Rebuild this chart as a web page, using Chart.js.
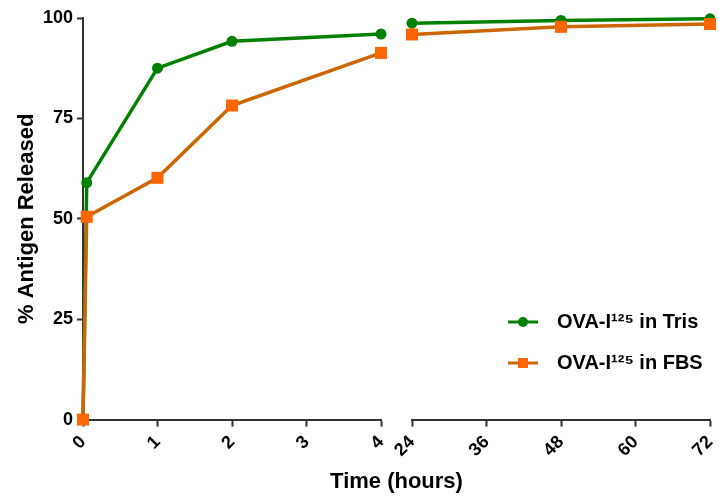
<!DOCTYPE html>
<html>
<head>
<meta charset="utf-8">
<title>% Antigen Released</title>
<script src="https://cdn.jsdelivr.net/npm/chart.js@4/dist/chart.umd.min.js"></script>
<style>
    html, body { margin: 0; padding: 0; background: #ffffff; }
    #wrap { position: relative; width: 719px; height: 496px; }
</style>
</head>
<body>
<div id="wrap"><canvas id="releaseChart"></canvas></div>
<script>
// Данные: время (часы) и процент высвобождения антигена
const hoursEarly = [0, 0.05, 1, 2, 4];
const hoursLate = [24, 48, 72];

const trisEarly = [0, 59, 87.5, 94.2, 96];
const trisLate = [98.7, 99.4, 99.8];

const fbsEarly = [0, 50.5, 60.2, 78.2, 91.3];
const fbsLate = [95.9, 97.8, 98.5];

const yTicks = [0, 25, 50, 75, 100];
const seriesLabels = ['OVA-I\u00B9\u00B2\u2075 in Tris', 'OVA-I\u00B9\u00B2\u2075 in FBS'];

const GREEN = '#008000';
const ORANGE_LINE = '#CC6600';
const ORANGE_MARK = '#FF6600';
const AXIS = '#333333';
const FONT = "'Liberation Sans', Arial, sans-serif";

function toPoints(xs, ys) {
    return xs.map((x, i) => ({ x, y: ys[i] }));
}

/**
 * Иконка легенды: линия с маркером
 */
function legendIcon(lineColor, markColor, shape) {
    const c = document.createElement('canvas');
    c.width = 30;
    c.height = 14;
    const g = c.getContext('2d');
    g.strokeStyle = lineColor;
    g.lineWidth = 3;
    g.beginPath();
    g.moveTo(0, 7);
    g.lineTo(30, 7);
    g.stroke();
    g.fillStyle = markColor;
    if (shape === 'circle') {
        g.beginPath();
        g.arc(15, 7, 5, 0, Math.PI * 2);
        g.fill();
    } else {
        g.fillRect(10, 2, 10, 10);
    }
    return c;
}
const icons = [legendIcon(GREEN, GREEN, 'circle'), legendIcon(ORANGE_LINE, ORANGE_MARK, 'rect')];

function series(label, xs, ys, axisId, line, mark, style, order, radius) {
    return {
        label,
        data: toPoints(xs, ys),
        xAxisID: axisId,
        yAxisID: 'y',
        borderColor: line,
        backgroundColor: mark,
        borderWidth: 3.5,
        pointStyle: style,
        pointRadius: radius,
        pointHoverRadius: radius,
        pointBackgroundColor: mark,
        pointBorderColor: mark,
        pointBorderWidth: 0,
        tension: 0,
        clip: false,
        order
    };
}

// Переносит легенду внутрь области графика (справа снизу)
const legendPlacer = {
    id: 'legendPlacer',
    afterLayout(chart) {
        const lg = chart.legend;
        const area = chart.chartArea;
        const w = lg.width, h = lg.height;
        lg.left = area.left + 395;
        lg.top = area.top + 273;
        lg.right = lg.left + w;
        lg.bottom = lg.top + h;
    }
};

const tickFont = { family: FONT, size: 18, weight: 'bold' };

function xAxis(min, max, step, weight) {
    return {
        type: 'linear',
        position: 'bottom',
        stack: 'time',
        stackWeight: weight,
        min,
        max,
        border: { display: true, color: AXIS, width: 2 },
        grid: { drawOnChartArea: false, drawTicks: true, tickLength: 7, tickWidth: 2, tickColor: AXIS },
        ticks: {
            stepSize: step,
            color: '#000',
            font: tickFont,
            minRotation: 45,
            maxRotation: 45,
            padding: 5
        },
        afterFit(scale) {
            scale.height = 47;
            scale.paddingLeft = 0;
            scale.paddingRight = 0;
        }
    };
}

const ctx = document.getElementById('releaseChart').getContext('2d');
new Chart(ctx, {
    type: 'line',
    data: {
        datasets: [
            series(seriesLabels[0], hoursEarly, trisEarly, 'x', GREEN, GREEN, 'circle', 2, 5.5),
            series(seriesLabels[1], hoursEarly, fbsEarly, 'x', ORANGE_LINE, ORANGE_MARK, 'rect', 1, 8.5),
            series('', hoursLate, trisLate, 'x2', GREEN, GREEN, 'circle', 2, 5.5),
            series('', hoursLate, fbsLate, 'x2', ORANGE_LINE, ORANGE_MARK, 'rect', 1, 8.5)
        ]
    },
    options: {
        responsive: true,
        maintainAspectRatio: false,
        animation: false,
        layout: { padding: { top: 18, right: 9, left: 0, bottom: 0 } },
        plugins: {
            tooltip: { enabled: false },
            title: {
                display: true,
                text: 'Time (hours)',
                position: 'bottom',
                fullSize: false,
                color: '#000',
                font: { family: FONT, size: 22, weight: 'bold', lineHeight: 1.2 },
                padding: { top: 2, bottom: 1 }
            },
            legend: {
                position: 'chartArea',
                align: 'start',
                labels: {
                    usePointStyle: true,
                    pointStyleWidth: 48,
                    padding: 21,
                    color: '#000',
                    font: { family: FONT, size: 20, weight: 'bold' },
                    filter: (item) => item.datasetIndex < 2,
                    sort: (a, b) => a.datasetIndex - b.datasetIndex,
                    generateLabels(chart) {
                        const items = Chart.defaults.plugins.legend.labels.generateLabels(chart);
                        items.forEach((it) => {
                            if (it.datasetIndex < 2) it.pointStyle = icons[it.datasetIndex];
                        });
                        return items;
                    }
                }
            }
        },
        scales: {
            x: xAxis(0, 4, 1, 298),
            gap: {
                type: 'linear',
                axis: 'x',
                position: 'bottom',
                stack: 'time',
                stackWeight: 31,
                display: false,
                min: 0,
                max: 1
            },
            x2: xAxis(24, 72, 12, 298),
            y: {
                type: 'linear',
                position: 'left',
                min: 0,
                max: 100,
                border: { display: true, color: AXIS, width: 2 },
                grid: { drawOnChartArea: false, drawTicks: true, tickLength: 6, tickWidth: 2, tickColor: AXIS },
                afterBuildTicks(scale) {
                    scale.ticks = yTicks.map((v) => ({ value: v }));
                },
                ticks: { color: '#000', font: tickFont, padding: 4 },
                title: {
                    display: true,
                    text: '% Antigen Released',
                    color: '#000',
                    font: { family: FONT, size: 22, weight: 'bold', lineHeight: 1.2 },
                    padding: { top: 14, bottom: 0 }
                },
                afterFit(scale) { scale.width = 83; }
            }
        }
    },
    plugins: [legendPlacer]
});
</script>
</body>
</html>
